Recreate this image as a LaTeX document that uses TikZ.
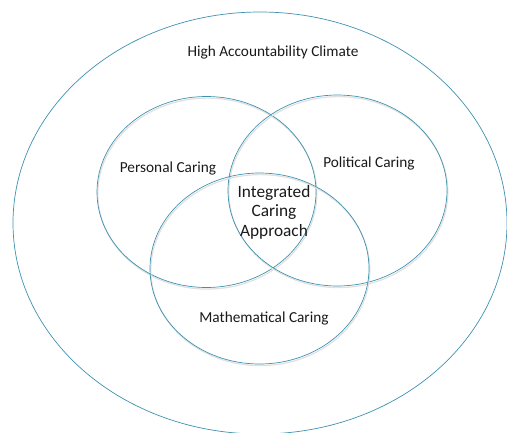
\documentclass[tikz,border=0pt]{standalone}
\usepackage{fontspec}
\setmainfont{Carlito}
\usetikzlibrary{positioning,shapes.geometric}
\definecolor{ringblue}{RGB}{62,146,176}

\begin{document}
\begin{tikzpicture}[
  x=1pt, y=-1pt,
  ring/.style={ellipse, draw=ringblue, line width=0.7pt, inner sep=0pt,
    minimum width=219pt, minimum height=191pt,
    preaction={draw=black!12, line width=1.2pt, transform canvas={shift={(0.8pt,-1.6pt)}}}},
  label/.style={font=\fontsize{15.3}{18}\selectfont, text=black!90, inner sep=1pt},
  core/.style={font=\fontsize{17.3}{19.5}\selectfont, text=black!90, align=center, inner sep=1pt}
]
  \useasboundingbox (0,0) rectangle (507,432);

  % outer climate
  \node (climate) [ellipse, draw=ringblue, line width=0.7pt, inner sep=0pt,
    minimum width=494pt, minimum height=422pt] at (260,223) {};

  % three caring circles
  \node (personal) [ring] at (206.5,192) {};
  \node (political) [ring] at (337.5,190.5) {};
  \node (math) [ring] at (259.5,268.5) {};

  % labels
  \node (climatetxt) [label] at (273,52) {High Accountability Climate};
  \node (personaltxt) [label] at (168,168) {Personal Caring};
  \node (politicaltxt) [label] at (369,163) {Political Caring};
  \node (mathtxt) [label] at (264,318) {Mathematical Caring};
  \node (coretxt) [core] at (274,212) {Integrated\\Caring\\Approach};
\end{tikzpicture}
\end{document}
